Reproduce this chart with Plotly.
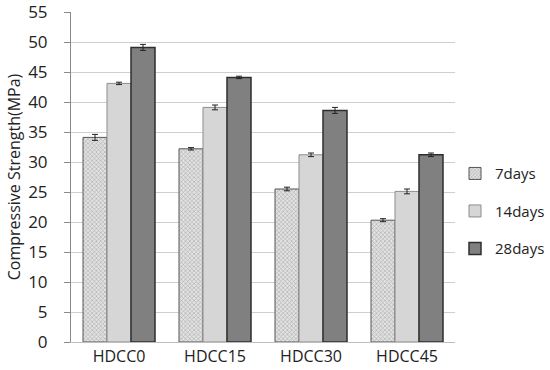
import plotly.graph_objects as go

categories = ["HDCC0", "HDCC15", "HDCC30", "HDCC45"]
series_names = ["7days", "14days", "28days"]
days7 = [34.1, 32.2, 25.5, 20.3]
days14 = [43.1, 39.1, 31.2, 25.1]
days28 = [49.1, 44.1, 38.6, 31.2]
err7 = [0.5, 0.2, 0.3, 0.25]
err14 = [0.2, 0.4, 0.3, 0.4]
err28 = [0.5, 0.2, 0.5, 0.3]
y_ticks = [0, 5, 10, 15, 20, 25, 30, 35, 40, 45, 50, 55]

FONT = "Open Sans"

fig = go.Figure()

styles = [
    dict(color="#dcdcdc", line=dict(color="#555555", width=1),
         pattern=dict(shape="x", fgcolor="#6e6e6e", bgcolor="#e2e2e2", size=3, solidity=0.35)),
    dict(color="#d6d6d6", line=dict(color="#8c8c8c", width=1)),
    dict(color="#808080", line=dict(color="#2e2e2e", width=1.5)),
]

for name, vals, errs, st, grp in zip(series_names, [days7, days14, days28],
                                     [err7, err14, err28], styles, ["a", "b", "c"]):
    fig.add_trace(go.Bar(
        x=categories, y=vals, name=name, marker=st, legendgroup=grp,
        error_y=dict(type="data", array=errs, visible=True, color="#222222",
                     thickness=1, width=3),
    ))

fig.update_layout(
    width=550, height=370,
    margin=dict(l=71, r=95, t=12, b=28, autoexpand=False),
    paper_bgcolor="white", plot_bgcolor="white",
    barmode="group", bargap=0.25, bargroupgap=0,
    font=dict(family=FONT, size=16, color="#222222"),
    legend=dict(x=1.0, y=0.56, xanchor="left", yanchor="top",
                traceorder="grouped", tracegroupgap=15, itemwidth=30,
                font=dict(size=15, color="#222222"), bgcolor="rgba(0,0,0,0)"),
    xaxis=dict(showline=True, linecolor="#bdbdbd", linewidth=1, ticks="",
               tickfont=dict(size=16), showgrid=False, automargin=False),
    yaxis=dict(range=[0, 55], tickvals=y_ticks, showgrid=True, gridcolor="#cfcfcf",
               gridwidth=1, showline=True, linecolor="#8a8a8a", linewidth=1,
               ticks="outside", ticklen=6, tickcolor="#8a8a8a",
               tickfont=dict(size=17), zeroline=False, automargin=False,
               ticklabelstandoff=13, ticklabeloverflow="allow",
               title=dict(text="Compressive Strength(MPa)", font=dict(size=16),
                          standoff=3)),
)

fig.write_html(
    "out.html",
    config={"displayModeBar": False},
    post_script="document.body.style.margin='0';document.body.style.overflow='hidden';",
)
